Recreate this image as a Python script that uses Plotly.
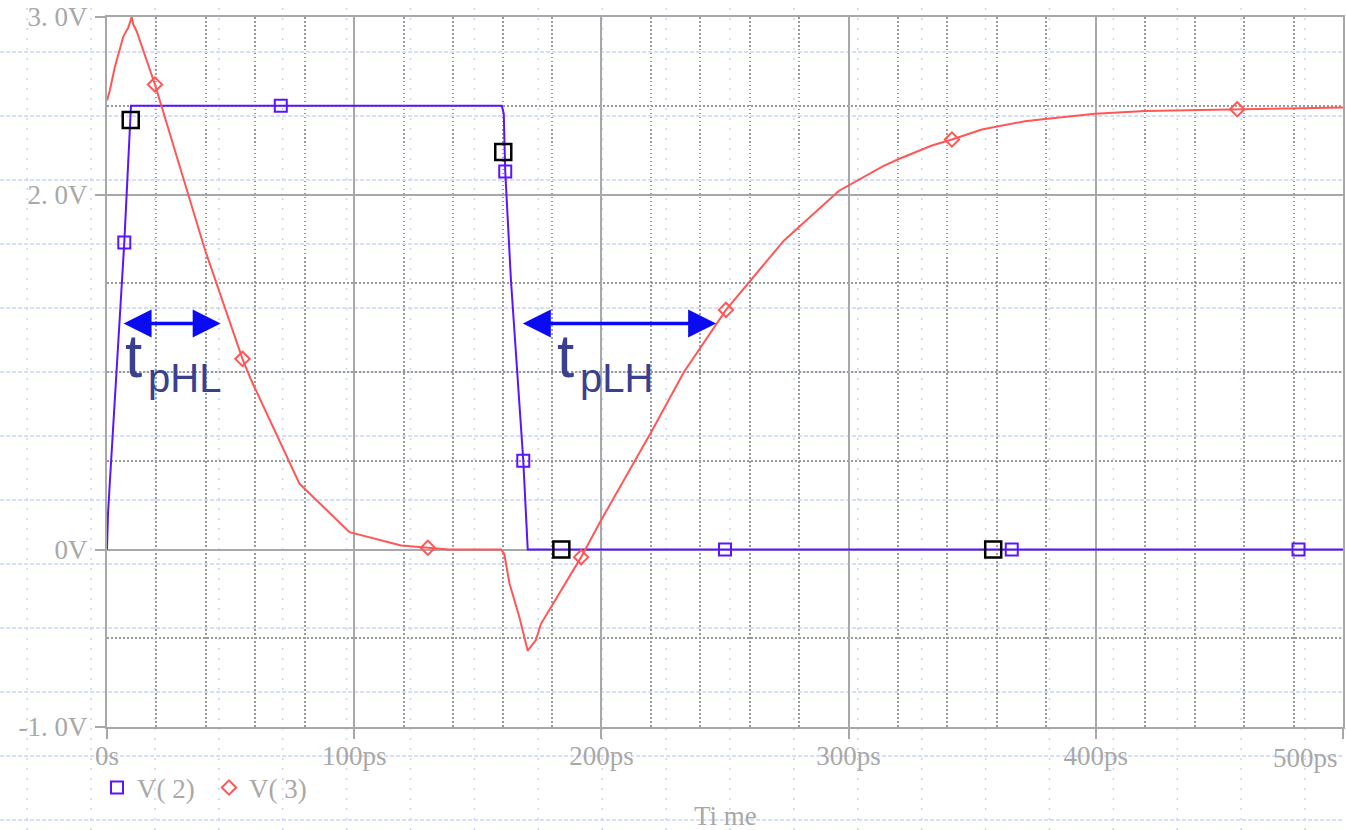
import plotly.graph_objects as go

# ---- waveform data (time in ps, voltage in V) ----
t_v2 = [0, 0.05, 0.4, 1.2, 7.0, 9.7, 70.3, 159.7, 160.5, 161.1, 163.4, 168.4, 170.2, 250, 366, 482, 500]
v_v2 = [0, 0.1, 0.2, 0.39, 1.73, 2.5, 2.5, 2.5, 2.455, 2.13, 1.52, 0.5, 0, 0, 0, 0, 0]

t_v3 = [0, 1.2, 3.2, 6.6, 8.6, 10.0, 10.6, 12.0, 19.4, 39.6, 54.8, 58.4, 77.9, 98.1, 119.0,
        129.8, 138.5, 159.4, 160.7, 162.8, 166.8, 170.2, 173.5, 175.5, 191.8, 199.8, 220.5,
        233.4, 250.4, 273.8, 296.0, 314.0, 320.3, 333.7, 341.8, 353.9, 371.4, 379.5, 399.7,
        419.9, 457.2, 479.1, 500]
v_v3 = [2.53, 2.59, 2.72, 2.89, 2.94, 3.0, 2.96, 2.92, 2.62, 1.69, 1.074, 0.952, 0.37, 0.098, 0.023,
        0.01, 0.0, 0.0, -0.024, -0.19, -0.38, -0.57, -0.51, -0.42, -0.043, 0.163, 0.67,
        1.0, 1.35, 1.74, 2.02, 2.16, 2.2, 2.276, 2.31, 2.366, 2.413, 2.426, 2.455,
        2.47, 2.48, 2.488, 2.49]

# symbol markers placed along each trace
mk_v2_t = [7.0, 70.3, 161.1, 168.4, 250, 366, 482]
mk_v2_v = [1.73, 2.5, 2.13, 0.5, 0, 0, 0]
mk_v3_t = [19.4, 54.8, 129.8, 191.8, 250.4, 341.8, 457.2]
mk_v3_v = [2.62, 1.074, 0.01, -0.043, 1.35, 2.31, 2.48]

# cursor points
cur_t = [9.6, 160.3, 183.8, 358.5]
cur_v = [2.42, 2.24, 0, 0]

# axis ticks
x_ticks = [0, 100, 200, 300, 400, 500]
x_ticktext = ["0s", "100ps", "200ps", "300ps", "400ps", ""]
y_ticks = [-1, 0, 2, 3]
y_ticktext = ["-1. 0V", "0V", "2. 0V", "3. 0V"]
y_minor = [-0.5, 0.5, 1.0, 1.5, 2.5]

BLUE = "#5a14ff"
RED = "#ff5656"
GRAY = "#a8a8a8"
LABEL_FONT = dict(family="Liberation Serif, Times New Roman, serif", size=27, color=GRAY)
ANNOT_COLOR = "#3b3f8f"
ARROW_COLOR = "#0b0bf2"
SANS = "Liberation Sans, Arial, sans-serif"

W, H = 1346, 830
L, R, T, B = 107, 1, 17, 103
PW, PH = W - L - R, H - T - B


def px2paper_x(px):
    return (px - L) / PW


def px2paper_y(py):
    return (H - B - py) / PH


fig = go.Figure()

fig.add_trace(go.Scatter(x=t_v2, y=v_v2, mode="lines", line=dict(color=BLUE, width=2),
                         showlegend=False, hoverinfo="skip"))
fig.add_trace(go.Scatter(x=t_v3, y=v_v3, mode="lines", line=dict(color=RED, width=2),
                         showlegend=False, hoverinfo="skip"))
fig.add_trace(go.Scatter(x=mk_v2_t, y=mk_v2_v, mode="markers", name="V( 2)",
                         marker=dict(symbol="square-open", size=12, color=BLUE, line=dict(width=2, color=BLUE))))
fig.add_trace(go.Scatter(x=mk_v3_t, y=mk_v3_v, mode="markers", name="V( 3)",
                         marker=dict(symbol="diamond-open", size=11, color=RED, line=dict(width=2, color=RED))))
fig.add_trace(go.Scatter(x=cur_t, y=cur_v, mode="markers", showlegend=False,
                         marker=dict(symbol="square-open", size=16, color="black",
                                     line=dict(width=2.5, color="black"))))

# light-blue background drawing grid across the whole page
shapes = []
for k in range(21):
    xp = px2paper_x(27 + 64 * k)
    shapes.append(dict(type="line", xref="paper", yref="paper", x0=xp, x1=xp,
                       y0=px2paper_y(H), y1=px2paper_y(0), layer="below",
                       line=dict(color="#c6d4f6", width=1.5, dash="2px,8px")))
for k in range(13):
    yp = px2paper_y(52 + 64 * k)
    shapes.append(dict(type="line", xref="paper", yref="paper", y0=yp, y1=yp,
                       x0=px2paper_x(0), x1=px2paper_x(W), layer="below",
                       line=dict(color="#c6d4f6", width=1.5, dash="4px,2px")))

annotations = [
    # propagation-delay arrows
    dict(x=46.0, y=1.273, ax=6.1, ay=1.273, xref="x", yref="y", axref="x", ayref="y",
         text="", showarrow=True, arrowside="end+start", arrowhead=2, startarrowhead=2,
         arrowsize=1.6, startarrowsize=1.6, arrowwidth=3.5, arrowcolor=ARROW_COLOR),
    dict(x=246.4, y=1.273, ax=167.6, ay=1.273, xref="x", yref="y", axref="x", ayref="y",
         text="", showarrow=True, arrowside="end+start", arrowhead=2, startarrowhead=2,
         arrowsize=1.6, startarrowsize=1.6, arrowwidth=3.5, arrowcolor=ARROW_COLOR),
    # t_pHL label
    dict(x=px2paper_x(123), y=px2paper_y(355), xref="paper", yref="paper", text="t",
         showarrow=False, xanchor="left", yanchor="middle",
         font=dict(family=SANS, size=62, color=ANNOT_COLOR)),
    dict(x=px2paper_x(146), y=px2paper_y(378), xref="paper", yref="paper", text="pHL",
         showarrow=False, xanchor="left", yanchor="middle",
         font=dict(family=SANS, size=40, color=ANNOT_COLOR)),
    # t_pLH label
    dict(x=px2paper_x(556), y=px2paper_y(355), xref="paper", yref="paper", text="t",
         showarrow=False, xanchor="left", yanchor="middle",
         font=dict(family=SANS, size=62, color=ANNOT_COLOR)),
    dict(x=px2paper_x(579), y=px2paper_y(378), xref="paper", yref="paper", text="pLH",
         showarrow=False, xanchor="left", yanchor="middle",
         font=dict(family=SANS, size=40, color=ANNOT_COLOR)),
    # last x tick label kept inside the page
    dict(x=500, y=px2paper_y(758), xref="x", yref="paper", text="500ps", showarrow=False,
         xanchor="right", yanchor="middle", xshift=-3, font=LABEL_FONT),
    # x-axis title
    dict(x=0.5, y=px2paper_y(816), xref="paper", yref="paper", text="Ti me", showarrow=False,
         xanchor="center", yanchor="middle", font=LABEL_FONT),
]

fig.update_layout(
    width=W, height=H,
    margin=dict(l=L, r=R, t=T, b=B, pad=0),
    paper_bgcolor="white", plot_bgcolor="white",
    shapes=shapes, annotations=annotations,
    showlegend=True,
    legend=dict(orientation="h", x=px2paper_x(97), xanchor="left", y=px2paper_y(788), yanchor="middle",
                font=LABEL_FONT, bgcolor="rgba(0,0,0,0)", entrywidth=67, entrywidthmode="pixels"),
    xaxis=dict(range=[0, 500], tickmode="array", tickvals=x_ticks, ticktext=x_ticktext,
               showgrid=True, gridcolor=GRAY, gridwidth=2, zeroline=False,
               showline=True, linecolor=GRAY, linewidth=2, mirror=True,
               ticks="outside", ticklen=10, tickwidth=2, tickcolor=GRAY,
               tickfont=LABEL_FONT, ticklabelstandoff=-6,
               minor=dict(tickmode="linear", tick0=0, dtick=20, showgrid=True,
                          gridcolor="#9a9a9a", gridwidth=1.5, griddash="1.5px,2.5px", ticks="")),
    yaxis=dict(range=[-1, 3], tickmode="array", tickvals=y_ticks, ticktext=y_ticktext,
               showgrid=True, gridcolor=GRAY, gridwidth=2, zeroline=False,
               showline=True, linecolor=GRAY, linewidth=2, mirror=True,
               ticks="outside", ticklen=10, tickwidth=2, tickcolor=GRAY,
               tickfont=LABEL_FONT, ticklabelstandoff=2,
               minor=dict(tickmode="array", tickvals=y_minor, showgrid=True,
                          gridcolor="#9a9a9a", gridwidth=1.5, griddash="1.5px,2.5px", ticks="")),
)

fig.write_html("out.html")
